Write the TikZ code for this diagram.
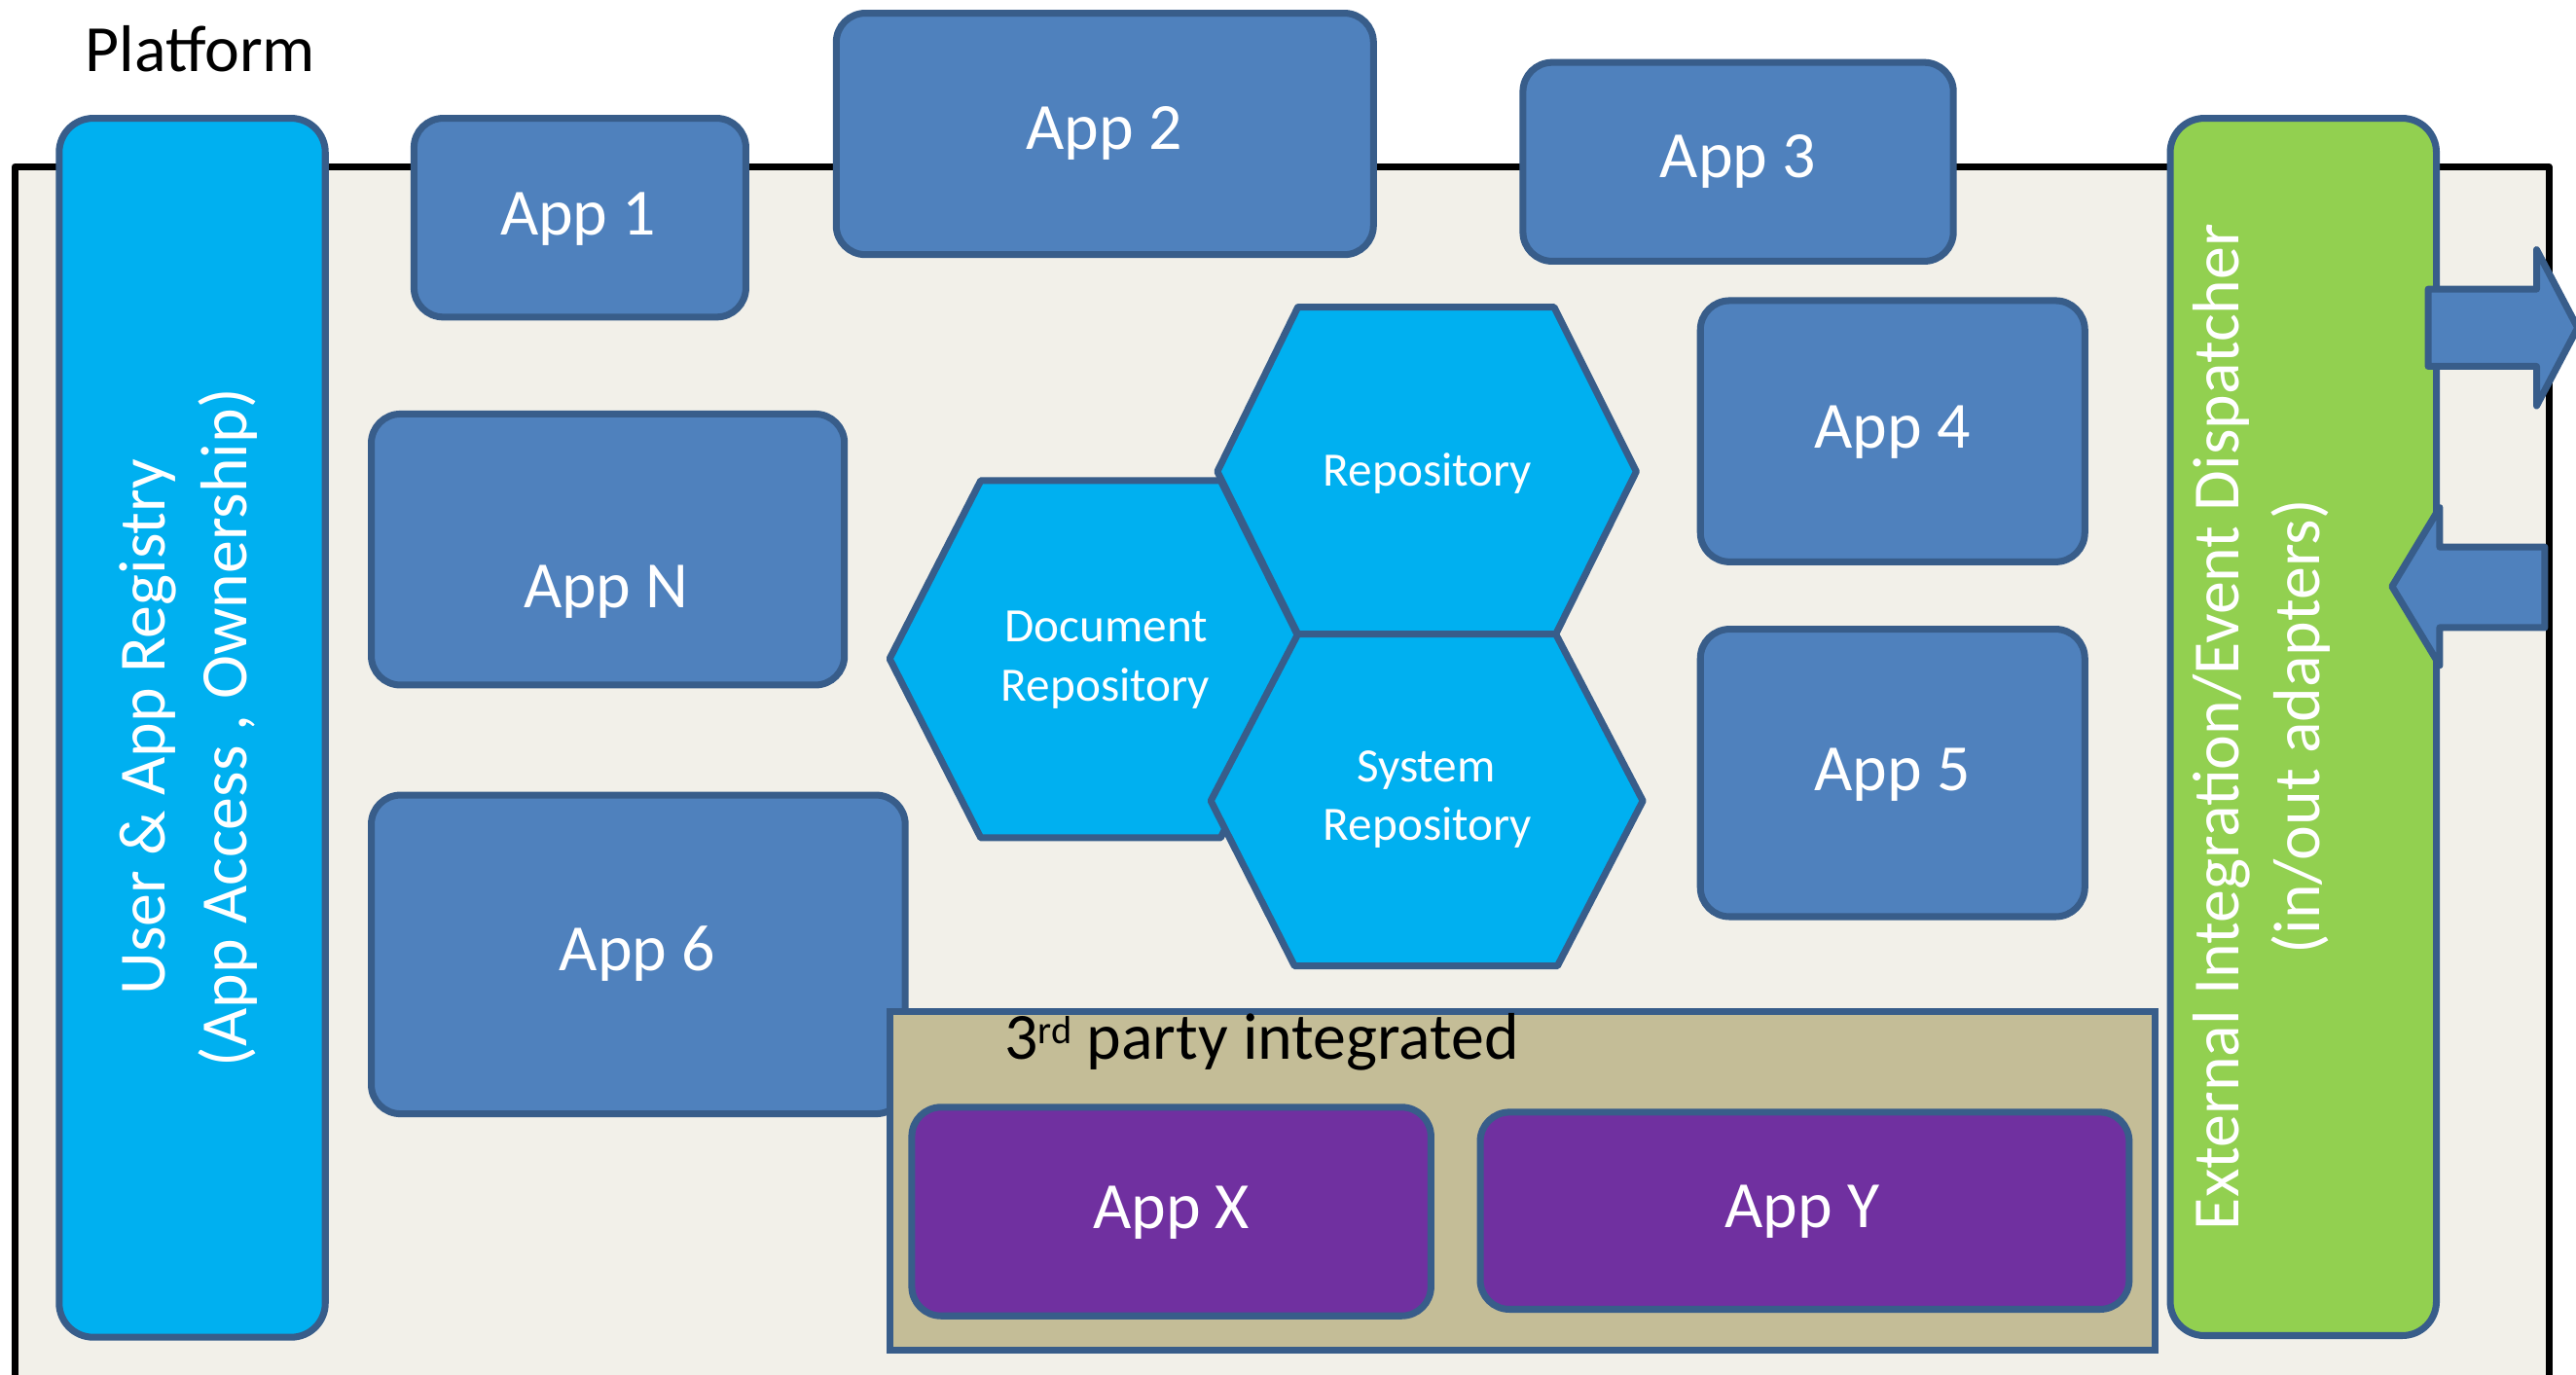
\documentclass[tikz,border=0pt]{standalone}
\usepackage{fontspec}
\setmainfont{Carlito}
\usetikzlibrary{fit}
\definecolor{appblue}{HTML}{4F81BD}
\definecolor{bordblue}{HTML}{385D8A}
\definecolor{regcyan}{HTML}{00B0F0}
\definecolor{dispgreen}{HTML}{92D050}
\definecolor{extpurple}{HTML}{7030A0}
\definecolor{tan}{HTML}{C4BD97}
\definecolor{platbg}{HTML}{F2F0E9}
\begin{document}
\begin{tikzpicture}[x=0.01688cm, y=-0.01688cm,
  boxbase/.style={draw=bordblue, line width=2pt, inner sep=0pt, outer sep=0pt, rounded corners=0.3cm},
  appbox/.style={boxbase, fill=appblue},
  regbox/.style={boxbase, fill=regcyan, rounded corners=0.35cm},
  dispbox/.style={boxbase, fill=dispgreen, rounded corners=0.35cm},
  extbox/.style={boxbase, fill=extpurple},
  hexa/.style={draw=bordblue, line width=2pt, fill=regcyan, line join=round},
  bigarrow/.style={draw=bordblue, line width=2pt, fill=appblue, line join=round},
  lbl/.style={text=white, font=\fontsize{19.3}{23}\selectfont, inner sep=0pt, anchor=base},
  hexlbl/.style={text=white, font=\fontsize{14}{17}\selectfont, inner sep=0pt, anchor=base},
  darklbl/.style={text=black, font=\fontsize{19.3}{23}\selectfont, inner sep=0pt, anchor=base}
]
\useasboundingbox (0,0) rectangle (1568,837);
\clip (0,0) rectangle (1568,837);
\fill[white] (0,0) rectangle (1568,837);

% platform
\draw[fill=platbg, line width=2pt, line join=round] (9,860) -- (9,101.5) -- (1551.5,101.5) -- (1551.5,860);
\node[darklbl] (plat) at (122,43.5) {Platform};

% user registry
\node[regbox, fit={(36,72) (198,814)}] (reg) {};
\node[lbl, rotate=90] (regt1) at (100.5,442.5) {User \& App Registry};
\node[lbl, rotate=90] (regt2) at (150,443) {(App Access , Ownership)};

% apps
\node[appbox, fit={(252,72) (454,193)}] (app1) {};
\node[lbl] (app1t) at (352,143) {App 1};
\node[appbox, fit={(509,8) (836,155)}] (app2) {};
\node[lbl] (app2t) at (672,91) {App 2};
\node[appbox, fit={(927,38) (1189,159)}] (app3) {};
\node[lbl] (app3t) at (1058,108) {App 3};
\node[appbox, fit={(1035,183) (1269,342)}] (app4) {};
\node[lbl] (app4t) at (1152,273) {App 4};
\node[appbox, fit={(1035,383) (1269,558)}] (app5) {};
\node[lbl] (app5t) at (1152,481) {App 5};
\node[appbox, fit={(226,252) (514,417)}] (appn) {};
\node[lbl] (appnt) at (369,370) {App N};
\node[appbox, fit={(226,484) (551,678)}] (app6) {};
\node[lbl] (app6t) at (388,591) {App 6};

% hexagons
\draw[hexa] (541.5,401) -- (597,292.5) -- (743,292.5) -- (797,401) -- (743,510) -- (597,510) -- cycle;
\node[hexlbl] (doct1) at (673.5,390.4) {Document};
\node[hexlbl] (doct2) at (673,427) {Repository};
\draw[hexa] (741,287) -- (790,187) -- (946,187) -- (996,287) -- (947,386) -- (790,386) -- cycle;
\node[hexlbl] (rept) at (869,296) {Repository};
\draw[hexa] (737,487.5) -- (790,386) -- (947,386) -- (1000,487.5) -- (948,588) -- (788,588) -- cycle;
\node[hexlbl] (syst1) at (868,476) {System};
\node[hexlbl] (syst2) at (869,511.7) {Repository};

% 3rd party
\node[draw=bordblue, line width=2pt, fill=tan, inner sep=0pt, outer sep=0pt, fit={(541.5,616) (1312,822)}] (third) {};
\node[darklbl] (thirdt) at (768,645) {3\raisebox{4.7pt}{\fontsize{11.5}{12}\selectfont rd} party integrated};
\node[extbox, fit={(555,674) (871,801)}] (appx) {};
\node[lbl] (appxt) at (713,748) {App X};
\node[extbox, fit={(901,677) (1296,797)}] (appy) {};
\node[lbl] (appyt) at (1097,747) {App Y};

% dispatcher
\node[dispbox, fit={(1321,72) (1483,813)}] (disp) {};
\node[lbl, rotate=90] (dispt1) at (1362.6,442.5) {External Integration/Event Dispatcher};
\node[lbl, rotate=90] (dispt2) at (1412,442.5) {(in/out adapters)};

% arrows
\draw[bigarrow] (1478,176) -- (1544,176) -- (1544,152) -- (1569,199.5) -- (1544,247) -- (1544,223) -- (1478,223) -- cycle;
\draw[bigarrow] (1456,357) -- (1485,309) -- (1485,333) -- (1549,333) -- (1549,382) -- (1485,382) -- (1485,405) -- cycle;
\end{tikzpicture}
\end{document}
